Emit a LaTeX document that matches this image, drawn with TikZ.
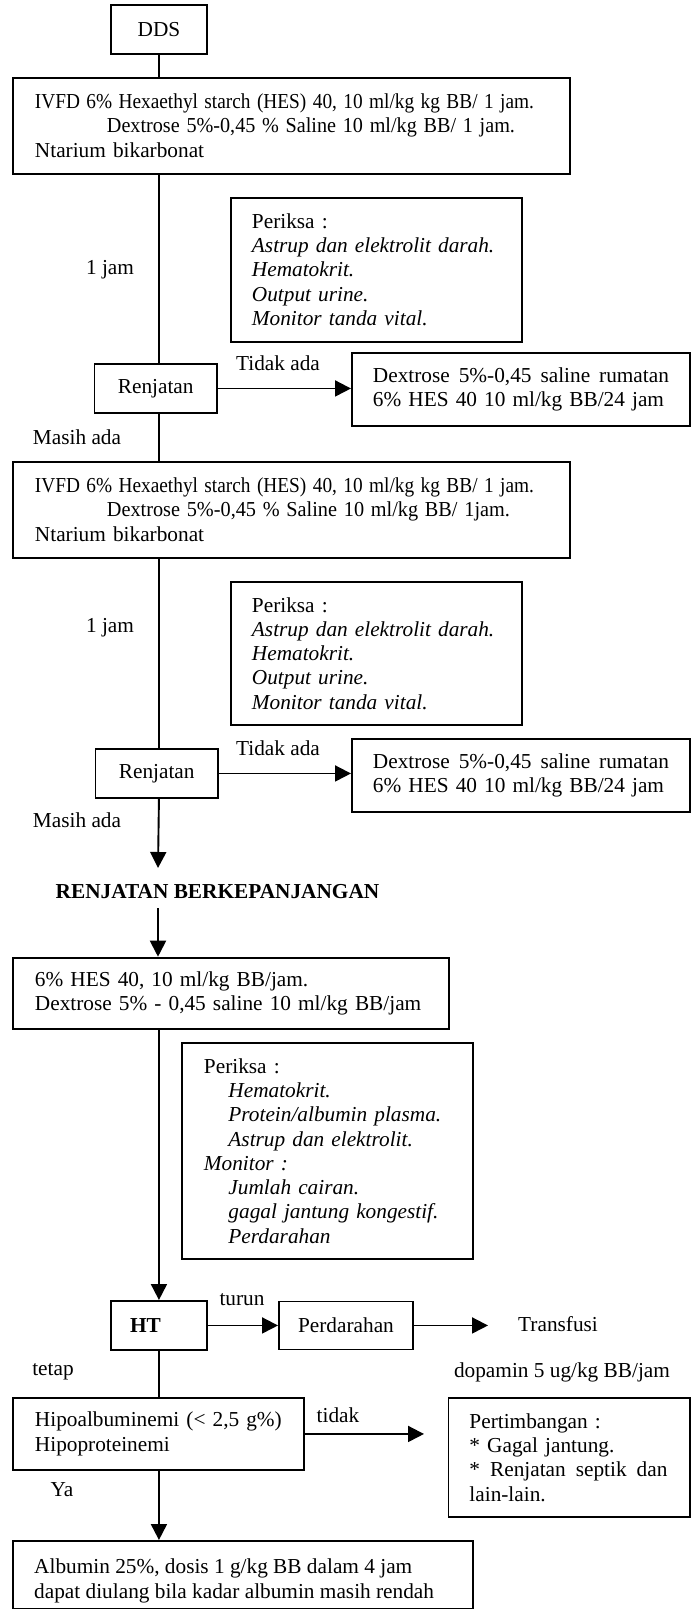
\documentclass[tikz,border=0pt]{standalone}
\usepackage{fontspec}
\usepackage{graphicx}
\setmainfont{Liberation Serif}
\usetikzlibrary{arrows.meta}
\newcommand\myfs{\fontsize{21.3}{24.3}\selectfont}
\newcommand\fillline[2]{\leavevmode\hbox to #1{#2}}
\newcommand\oneline[1]{\mbox{#1}}
\newcommand\squeeze[2]{\leavevmode\resizebox{#1}{\height}{#2}}
\begin{document}
\begin{tikzpicture}[x=1pt,y=-1pt,
  every node/.style={font=\myfs},
  box/.style={draw, line width=1.9pt, inner ysep=0pt, anchor=north west, align=left},
  cbox/.style={draw, line width=1.9pt, inner sep=0pt, anchor=north west, align=center},
  lbl/.style={inner sep=0pt},
  conn/.style={line width=1.9pt},
  arr/.style={line width=1.9pt, -{Triangle[length=16pt,width=16pt]}}
]
\fill[white] (0,0) rectangle (693,1610);
\useasboundingbox (0,0) rectangle (693,1610);

% top part
\node[cbox, minimum width=96pt, minimum height=49pt] (dds) at (110,4) {DDS};
\node[box, minimum width=556.6pt, minimum height=96pt, inner xsep=21.6pt, text width=513.4pt] (b1) at (12.4,76.7)
  {\squeeze{499pt}{IVFD 6\% Hexaethyl starch (HES) 40, 10 ml/kg kg BB/ 1 jam.}\\
   \hspace*{72pt}\squeeze{408pt}{Dextrose 5\%-0,45 \% Saline 10 ml/kg BB/ 1 jam.}\\
   Ntarium bikarbonat};
\node[box, minimum width=291pt, minimum height=144pt, inner xsep=21pt, text width=249pt] (p1) at (230,196.7)
  {Periksa :\\
   \oneline{\textit{Astrup dan elektrolit darah.}}\\
   \textit{Hematokrit.}\\
   \textit{Output urine.}\\
   \oneline{\textit{Monitor tanda vital.}}};
\node[cbox, minimum width=122.5pt, minimum height=49pt] (r1) at (93.5,363) {Renjatan};
\node[box, minimum width=338pt, minimum height=73pt, inner xsep=21pt, text width=296pt] (d1) at (351,352)
  {\fillline{296pt}{Dextrose\hfill 5\%-0,45\hfill saline\hfill rumatan}\\
   \oneline{6\% HES 40 10 ml/kg BB/24 jam}};

% second round
\node[box, minimum width=556.6pt, minimum height=96pt, inner xsep=21.6pt, text width=513.4pt] (b2) at (12.4,460.7)
  {\squeeze{499pt}{IVFD 6\% Hexaethyl starch (HES) 40, 10 ml/kg kg BB/ 1 jam.}\\
   \hspace*{72pt}\squeeze{403pt}{Dextrose 5\%-0,45 \% Saline 10 ml/kg BB/ 1jam.}\\
   Ntarium bikarbonat};
\node[box, minimum width=291pt, minimum height=143.5pt, inner xsep=21pt, text width=249pt] (p2) at (230,580.7)
  {Periksa :\\
   \oneline{\textit{Astrup dan elektrolit darah.}}\\
   \textit{Hematokrit.}\\
   \textit{Output urine.}\\
   \oneline{\textit{Monitor tanda vital.}}};
\node[cbox, minimum width=122.5pt, minimum height=49pt] (r2) at (94.5,748) {Renjatan};
\node[box, minimum width=338pt, minimum height=73pt, inner xsep=21pt, text width=296pt] (d2) at (351,738)
  {\fillline{296pt}{Dextrose\hfill 5\%-0,45\hfill saline\hfill rumatan}\\
   \oneline{6\% HES 40 10 ml/kg BB/24 jam}};

\node[lbl, font=\myfs\bfseries] (rb) at (217.5,892) {RENJATAN BERKEPANJANGAN};
\coordinate (rbtop) at (158,868);
\coordinate (rbbot) at (158,908);

% prolonged shock
\node[box, minimum width=435.6pt, minimum height=71.3pt, inner xsep=21.6pt, text width=392.4pt] (b3) at (12.4,956.7)
  {\oneline{6\% HES 40, 10 ml/kg BB/jam.}\\
   \oneline{Dextrose 5\% - 0,45 saline 10 ml/kg BB/jam}};
\node[box, minimum width=291pt, minimum height=216pt, inner xsep=22pt, text width=247pt] (p3) at (181,1042)
  {Periksa :\\
   \hspace*{24.5pt}\oneline{\textit{Hematokrit.}}\\
   \hspace*{24.5pt}\oneline{\textit{Protein/albumin plasma.}}\\
   \hspace*{24.5pt}\oneline{\textit{Astrup dan elektrolit.}}\\
   \textit{Monitor :}\\
   \hspace*{24.5pt}\oneline{\textit{Jumlah cairan.}}\\
   \hspace*{24.5pt}\oneline{\textit{gagal jantung kongestif.}}\\
   \hspace*{24.5pt}\oneline{\textit{Perdarahan}}};

\node[cbox, minimum width=96pt, minimum height=49pt] (ht) at (110,1300) {\textbf{HT}\hspace*{27pt}};
\node[cbox, minimum width=134pt, minimum height=48pt] (pd) at (278,1300.5) {Perdarahan};
\node[lbl, anchor=west] (tr) at (518,1324) {Transfusi};
\node[lbl] (dop) at (562,1372) {dopamin 5 ug/kg BB/jam};

\node[box, minimum width=291pt, minimum height=72pt, inner xsep=21.6pt, text width=247.8pt] (b4) at (12.4,1397)
  {\oneline{Hipoalbuminemi (< 2,5 g\%)}\\
   Hipoproteinemi};
\node[box, minimum width=241.5pt, minimum height=119pt, inner xsep=21pt, text width=199.5pt] (pt) at (447.5,1397)
  {\oneline{Pertimbangan :}\\
   \oneline{* Gagal jantung.}\\
   \fillline{198pt}{*\hfill Renjatan\hfill septik\hfill dan}\\
   lain-lain.};
\node[box, minimum width=459.6pt, minimum height=67.5pt] (b5) at (12.4,1540) {};
\node[lbl, anchor=north west, align=left] (b5t) at (34,1559)
  {Albumin 25\%, dosis 1 g/kg BB dalam 4 jam\\
   dapat diulang bila kadar albumin masih rendah};

% labels
\node[lbl] (j1) at (110,270) {1 jam};
\node[lbl] (j2) at (110,628) {1 jam};
\node[lbl] (t1) at (278,363) {Tidak ada};
\node[lbl] (t2) at (278,748) {Tidak ada};
\node[lbl] (m1) at (77,437.5) {Masih ada};
\node[lbl] (m2) at (77,820) {Masih ada};
\node[lbl] (turun) at (242,1300) {turun};
\node[lbl] (tetap) at (53,1372) {tetap};
\node[lbl] (tidak) at (338,1415) {tidak};
\node[lbl] (ya) at (62,1490) {Ya};

% connectors
\draw[conn] (dds.south) -- (dds.south |- b1.north);
\draw[conn] (dds.south |- b1.south) -- (dds.south |- r1.north);
\draw[arr] (r1.east) -- (r1.east -| d1.west);
\draw[conn] (dds.south |- r1.south) -- (dds.south |- b2.north);
\draw[conn] (dds.south |- b2.south) -- (dds.south |- r2.north);
\draw[arr] (r2.east) -- (r2.east -| d2.west);
\draw[arr] (dds.south |- r2.south) -- (rbtop);
\draw[arr] (rbbot) -- (rbbot |- b3.north);
\draw[arr] (dds.south |- b3.south) -- (ht.north);
\draw[arr] (ht.east) -- (ht.east -| pd.west);
\draw[arr, shorten >=30pt] (pd.east) -- (pd.east -| tr.west);
\draw[conn] (ht.south) -- (ht.south |- b4.north);
\draw[arr, shorten >=23.5pt] (b4.east) -- (b4.east -| pt.west);
\draw[arr] (ht.south |- b4.south) -- (ht.south |- b5.north);
\end{tikzpicture}
\end{document}
